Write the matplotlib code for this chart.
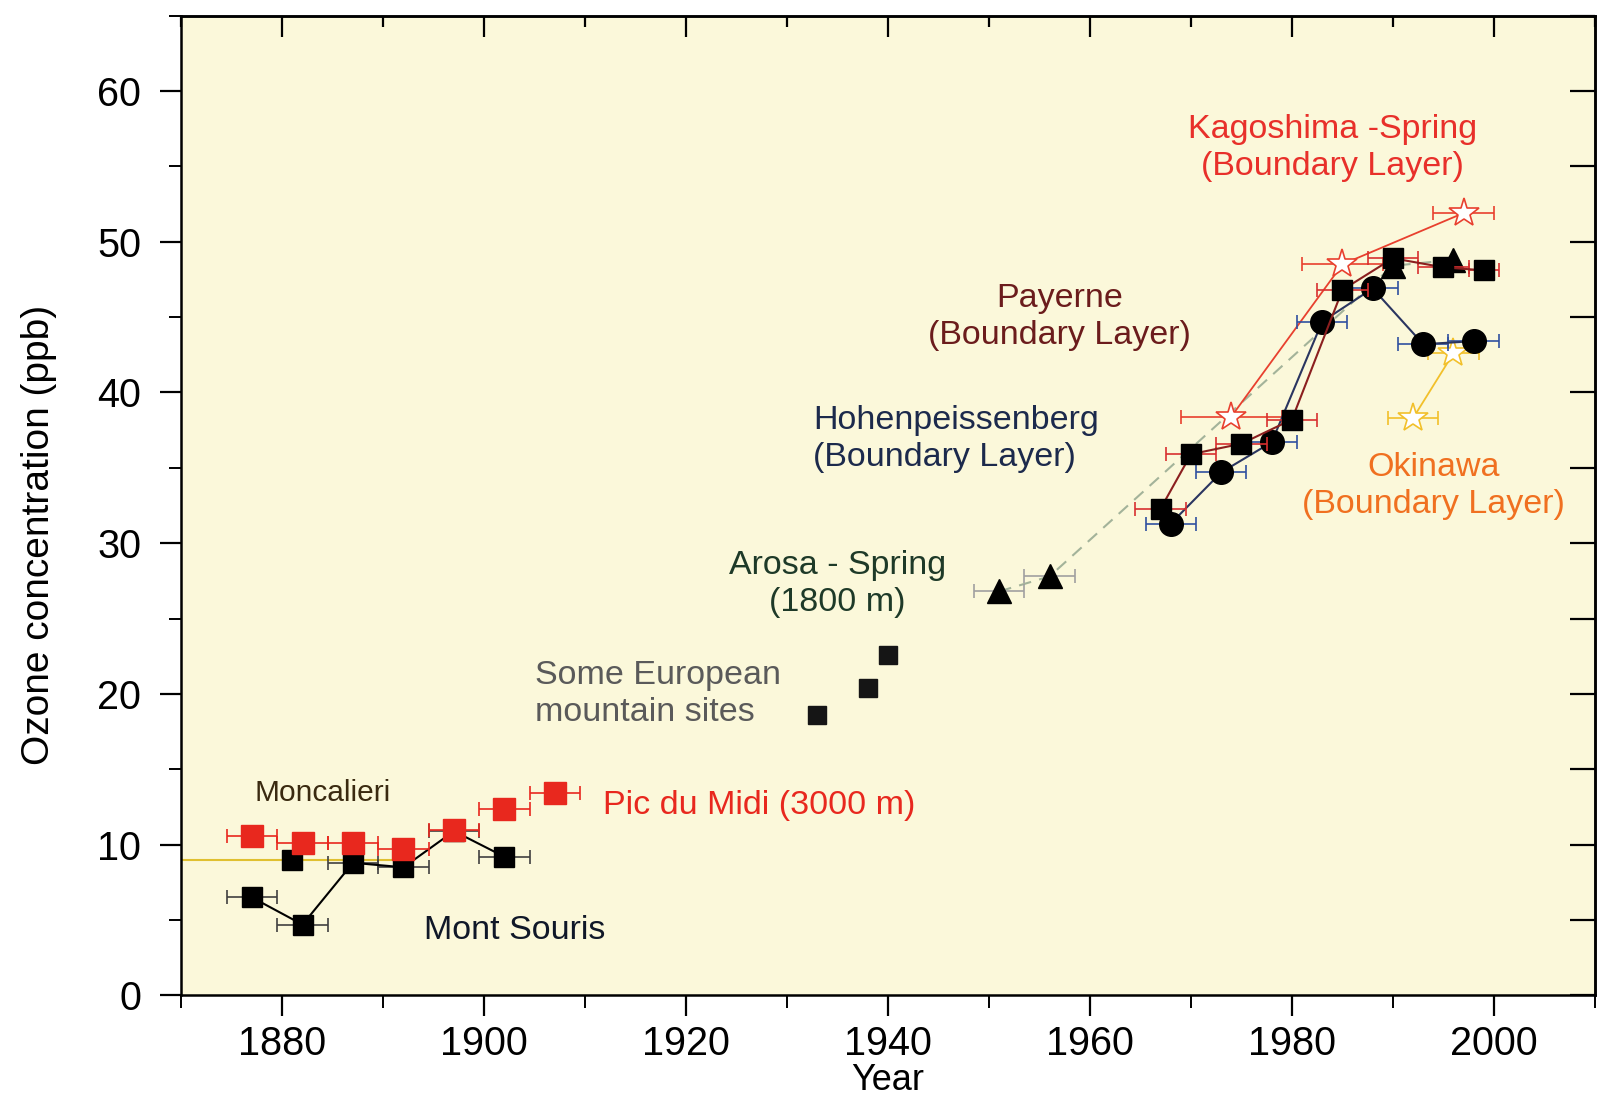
import numpy as np
import matplotlib.pyplot as plt

plt.rcParams['font.family'] = ['Liberation Sans', 'DejaVu Sans']

# Mont Souris (Paris)
ms_year = [1877, 1882, 1887, 1892, 1897, 1902]
ms_o3 = [6.5, 4.7, 8.8, 8.5, 10.9, 9.2]

# Pic du Midi (3000 m)
pdm_year = [1877, 1882, 1887, 1892, 1897, 1902, 1907]
pdm_o3 = [10.6, 10.1, 10.1, 9.7, 11.0, 12.4, 13.4]

# Moncalieri
mon_year = [1881]
mon_o3 = [9.0]
mon_span = [1868, 1892]
mon_mean = 9.0

# some European mountain sites
eur_year = [1933, 1938, 1940]
eur_o3 = [18.6, 20.4, 22.6]

# Arosa - spring
aro_year = [1951, 1956, 1990, 1996]
aro_o3 = [26.8, 27.8, 48.4, 48.8]

# Payerne
pay_year = [1967, 1970, 1975, 1980, 1985, 1990, 1995, 1999]
pay_o3 = [32.3, 35.9, 36.6, 38.2, 46.8, 48.9, 48.3, 48.1]
pay_err = [2.5, 2.5, 2.5, 2.5, 2.5, 2.5, 2.5, 1.5]

# Hohenpeissenberg
hoh_year = [1968, 1973, 1978, 1983, 1988, 1993, 1998]
hoh_o3 = [31.3, 34.7, 36.7, 44.7, 46.9, 43.2, 43.4]

# Kagoshima - spring
kag_year = [1974, 1985, 1997]
kag_o3 = [38.4, 48.5, 51.9]
kag_err = [5, 4, 3]

# Okinawa
oki_year = [1992, 1996]
oki_o3 = [38.3, 42.6]

fig = plt.figure(figsize=(15.98, 11.11), dpi=100)
ax = fig.add_axes([0.1135, 0.104, 0.8845, 0.882])
ax.set_facecolor('#fbf8da')

eb = dict(capsize=5, elinewidth=1.2, capthick=1.2)

ax.plot(mon_span, [mon_mean, mon_mean], color='#e0c030', lw=1.5, zorder=1)

ax.errorbar(ms_year, ms_o3, xerr=2.5, fmt='s-', color='black', ms=15, lw=1.5,
            ecolor='#404040', zorder=3, **eb)
ax.errorbar(pdm_year, pdm_o3, xerr=2.5, fmt='s', color='#e8281e', ms=16,
            ecolor='#e8281e', zorder=4, **eb)
ax.plot(mon_year, mon_o3, 's', color='black', ms=15, zorder=3)

ax.plot(eur_year, eur_o3, 's', color='#151515', ms=13, zorder=3)

ax.plot(aro_year, aro_o3, color='#a3b39a', lw=1.5, ls=(0, (6, 4)), zorder=2)
ax.errorbar(aro_year[:2], aro_o3[:2], xerr=2.5, fmt='^', color='black', ms=17,
            ecolor='#a0a0a0', zorder=3, **eb)
ax.plot(aro_year[2:], aro_o3[2:], '^', color='black', ms=17, zorder=3)

ax.errorbar(kag_year, kag_o3, xerr=kag_err, fmt='*-', color='#e8402e', ms=22,
            mfc='white', mec='#e8402e', mew=1.2, lw=1.3, ecolor='#e8402e',
            zorder=2, **eb)
ax.errorbar(oki_year, oki_o3, xerr=2.5, fmt='*-', color='#f2c02a', ms=22,
            mfc='white', mec='#f2c02a', mew=1.2, lw=1.3, ecolor='#f2c02a',
            zorder=2, **eb)

ax.errorbar(hoh_year, hoh_o3, xerr=2.5, fmt='o-', color='#2a3560', ms=17,
            mfc='black', mec='black', lw=1.5, ecolor='#3050a0', zorder=3, **eb)
ax.errorbar(pay_year, pay_o3, xerr=pay_err, fmt='s-', color='#8b1f1f', ms=15,
            mfc='black', mec='black', lw=1.5, ecolor='#d83030', zorder=4, **eb)

# labels for each record
fs = 24.5
ax.text(1984, 56.2, 'Kagoshima -Spring\n(Boundary Layer)', color='#e8302a',
        fontsize=fs, ha='center', va='center', linespacing=1.25)
ax.text(1957, 45.0, 'Payerne\n(Boundary Layer)', color='#6b1c1c',
        fontsize=fs, ha='center', va='center', linespacing=1.25)
ax.text(1932.6, 36.9, 'Hohenpeissenberg\n(Boundary Layer)', color='#1c2a4c',
        fontsize=fs, ha='left', va='center', linespacing=1.25)
ax.text(1935, 27.3, 'Arosa - Spring\n(1800 m)', color='#1e3a28',
        fontsize=fs, ha='center', va='center', linespacing=1.25)
ax.text(1905, 20.0, 'Some European\nmountain sites', color='#5a5a5a',
        fontsize=fs, ha='left', va='center', linespacing=1.25)
ax.text(1884, 13.4, 'Moncalieri', color='#3a2a10', fontsize=21.5,
        ha='center', va='center')
ax.text(1911.8, 12.6, 'Pic du Midi (3000 m)', color='#e8281e', fontsize=fs,
        ha='left', va='center')
ax.text(1903, 4.3, 'Mont Souris', color='#101828', fontsize=fs,
        ha='center', va='center')
ax.text(1994, 33.8, 'Okinawa\n(Boundary Layer)', color='#f07020',
        fontsize=fs, ha='center', va='center', linespacing=1.25)

ax.set_xlim(1870, 2010)
ax.set_ylim(0, 65)
ax.set_xticks(np.arange(1880, 2001, 20))
ax.set_xticks(np.arange(1870, 2011, 10), minor=True)
ax.set_yticks(np.arange(0, 61, 10))
ax.set_yticks(np.arange(5, 66, 10), minor=True)
ax.tick_params(which='major', direction='out', length=15, width=1.6,
               labelsize=28.5, pad=6)
ax.tick_params(which='minor', direction='out', length=9, width=1.4)
ax.tick_params(axis='y', which='major', pad=14)

# inward ticks on the top and right sides
top = ax.secondary_xaxis('top')
top.set_xticks(np.arange(1880, 2001, 20))
top.set_xticks(np.arange(1870, 2011, 10), minor=True)
top.tick_params(which='both', direction='in', labeltop=False, width=1.6)
top.tick_params(which='major', length=15)
top.tick_params(which='minor', length=8)
right = ax.secondary_yaxis('right')
right.set_yticks(np.arange(0, 61, 10))
right.set_yticks(np.arange(5, 66, 10), minor=True)
right.tick_params(which='both', direction='in', labelright=False, width=1.6,
                  length=18)

for sp in ax.spines.values():
    sp.set_linewidth(1.8)
top.spines['top'].set_linewidth(1.8)
right.spines['right'].set_linewidth(1.8)

ax.set_xlabel('Year', fontsize=26, labelpad=0)
ax.set_ylabel('Ozone concentration (ppb)', fontsize=28)
ax.yaxis.set_label_coords(-0.088, 0.47)

fig.savefig('out.png', dpi=100)
